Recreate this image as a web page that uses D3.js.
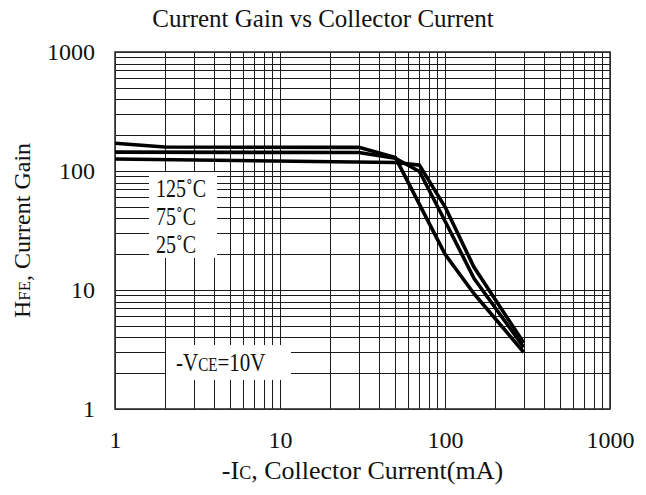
<!DOCTYPE html>
<html>
<head>
<meta charset="utf-8">
<script src="https://cdn.jsdelivr.net/npm/d3@7"></script>
<style>
  html, body { margin: 0; padding: 0; background: #fff; }
  svg { display: block; }
  text { font-family: "Liberation Serif", "Times New Roman", serif; fill: #111; }
</style>
</head>
<body>
<svg id="chart" width="646" height="495"></svg>
<script>
// Collector current (mA) and DC current gain for each junction temperature
const ic125 = [1, 2, 30, 50, 100, 150, 300];
const hfe125 = [171, 159, 158, 130, 20, 9.3, 3.0];
const ic75 = [1, 30, 50, 70, 100, 150, 300];
const hfe75 = [144, 143, 128, 99, 38, 12.5, 3.3];
const ic25 = [1, 50, 70, 100, 150, 300];
const hfe25 = [126, 118, 112, 50, 15.5, 3.6];

const seriesNames = ["125˚C", "75˚C", "25˚C"];
const xTickValues = [1, 10, 100, 1000];
const yTickValues = [1, 10, 100, 1000];
const xTickLabels = ["1", "10", "100", "1000"];
const yTickLabels = ["1", "10", "100", "1000"];

const W = 646, H = 495;
const plot = { left: 115, right: 610, top: 52, bottom: 409 };

const svg = d3.select("#chart");
const x = d3.scaleLog().domain([1, 1000]).range([plot.left, plot.right]);
const y = d3.scaleLog().domain([1, 1000]).range([plot.bottom, plot.top]);

// every 1..9 step of each decade
const gridVals = [];
[1, 10, 100].forEach(d => { for (let k = 1; k <= 9; k++) gridVals.push(d * k); });
gridVals.push(1000);

// log grid, drawn as axes with full-length ticks
const gx = svg.append("g")
  .attr("transform", `translate(0,${plot.bottom})`)
  .call(d3.axisBottom(x).tickValues(gridVals).tickFormat("").tickSize(-(plot.bottom - plot.top)));
const gy = svg.append("g")
  .attr("transform", `translate(${plot.left},0)`)
  .call(d3.axisLeft(y).tickValues(gridVals).tickFormat("").tickSize(-(plot.right - plot.left)));
[gx, gy].forEach(g => {
  g.select(".domain").remove();
  g.selectAll(".tick line").attr("stroke", "#1a1a1a").attr("stroke-width", 1).attr("shape-rendering", "crispEdges");
});

// white panels behind the in-plot annotations
svg.append("rect").attr("x", 149).attr("y", 172).attr("width", 68).attr("height", 86).attr("fill", "#fff");
svg.append("rect").attr("x", 166).attr("y", 345).attr("width", 125).attr("height", 35).attr("fill", "#fff");

// frame
svg.append("rect")
  .attr("x", plot.left).attr("y", plot.top)
  .attr("width", plot.right - plot.left).attr("height", plot.bottom - plot.top)
  .attr("fill", "none").attr("stroke", "#333").attr("stroke-width", 1.6);

// gain curves
const line = d3.line().x(d => x(d[0])).y(d => y(d[1]));
const series = [
  d3.zip(ic125, hfe125),
  d3.zip(ic75, hfe75),
  d3.zip(ic25, hfe25)
];
svg.append("g").selectAll("path").data(series).join("path")
  .attr("d", line)
  .attr("fill", "none")
  .attr("stroke", "#000")
  .attr("stroke-width", 3.6)
  .attr("stroke-linejoin", "round");

// tick labels
const xl = svg.append("g")
  .attr("transform", `translate(0,${plot.bottom})`)
  .call(d3.axisBottom(x).tickValues(xTickValues).tickFormat((d, i) => xTickLabels[i]).tickSize(0).tickPadding(22));
const yl = svg.append("g")
  .attr("transform", `translate(${plot.left},0)`)
  .call(d3.axisLeft(y).tickValues(yTickValues).tickFormat((d, i) => yTickLabels[i]).tickSize(0).tickPadding(20));
[xl, yl].forEach(g => {
  g.select(".domain").remove();
  g.selectAll("text").attr("font-size", 24).attr("font-family", "Liberation Serif").attr("fill", "#111");
});

// title
svg.append("text").attr("x", W / 2).attr("y", 27).attr("text-anchor", "middle")
  .attr("font-size", 25).text("Current Gain vs Collector Current");

// axis titles
const xt = svg.append("text").attr("x", (plot.left + plot.right) / 2).attr("y", 479)
  .attr("text-anchor", "middle").attr("font-size", 26);
xt.append("tspan").text("-I");
xt.append("tspan").attr("font-size", 18).text("C");
xt.append("tspan").text(", Collector Current(mA)");

const yt = svg.append("text")
  .attr("transform", `translate(30,${(plot.top + plot.bottom) / 2}) rotate(-90)`)
  .attr("text-anchor", "middle").attr("font-size", 24);
yt.append("tspan").text("H");
yt.append("tspan").attr("font-size", 17).text("FE");
yt.append("tspan").text(", Current Gain");

// temperature labels
const tempBase = [197, 225, 253];
seriesNames.forEach((s, i) => {
  svg.append("text")
    .attr("transform", `translate(156,${tempBase[i]}) scale(0.8,1)`)
    .attr("font-size", 25).text(s);
});

// bias condition
const vce = svg.append("text")
  .attr("transform", "translate(176,371) scale(0.84,1)")
  .attr("font-size", 25);
vce.append("tspan").text("-V");
vce.append("tspan").attr("font-size", 18).text("CE");
vce.append("tspan").text("=10V");
</script>
</body>
</html>
